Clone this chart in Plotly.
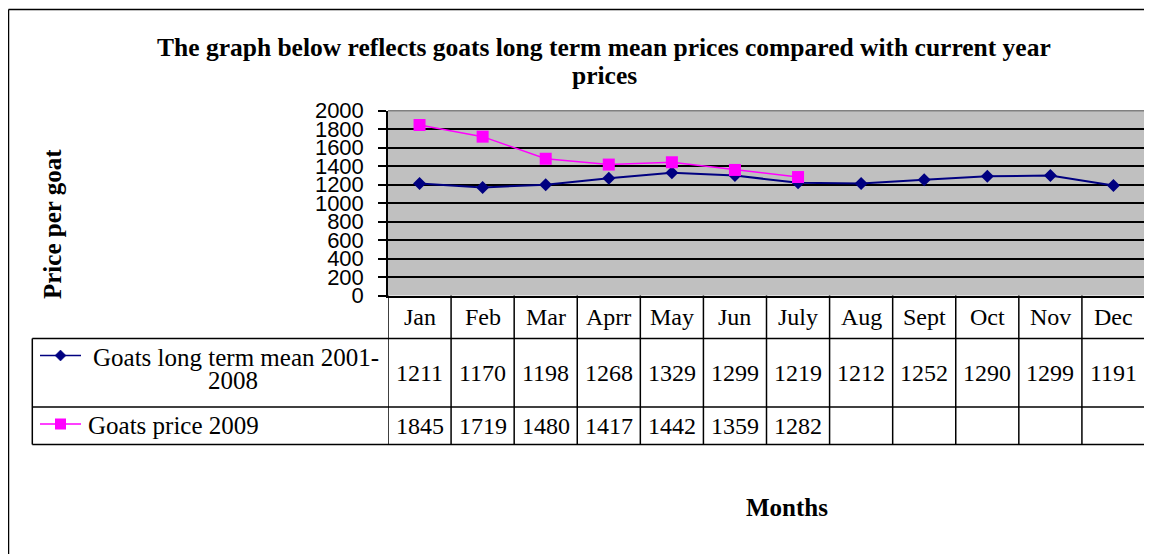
import plotly.graph_objects as go

months = ["Jan", "Feb", "Mar", "Aprr", "May", "Jun", "July", "Aug", "Sept", "Oct", "Nov", "Dec"]
mean_2001_2008 = [1211, 1170, 1198, 1268, 1329, 1299, 1219, 1212, 1252, 1290, 1299, 1191]
price_2009 = [1845, 1719, 1480, 1417, 1442, 1359, 1282, None, None, None, None, None]
series_names = ["Goats long term mean 2001-", "2008", "Goats price 2009"]

W, H = 1152, 554
NAVY = "#000080"
MAGENTA = "#FF00FF"
SERIF = "Liberation Serif, Times New Roman, serif"
SANS = "Liberation Sans, Arial, sans-serif"
OFF = 8  # page body margin offset


def px(x):
    return (x - OFF) / W


def py(y):
    return 1 - (y - OFF) / H


# layout geometry (pixels, as seen on the page)
PL, PR, PT, PB = 388, 1145, 110.7, 295.5
ROW1, ROW2, TBOT = 338.5, 407, 444.5
LEGL = 32.3

fig = go.Figure()
fig.add_trace(go.Scatter(
    x=months, y=mean_2001_2008, mode="lines+markers",
    line=dict(color=NAVY, width=2),
    marker=dict(symbol="diamond", size=10, color=NAVY),
    showlegend=False, cliponaxis=False))
fig.add_trace(go.Scatter(
    x=months, y=price_2009, mode="lines+markers",
    line=dict(color=MAGENTA, width=1.5),
    marker=dict(symbol="square", size=12, color=MAGENTA),
    showlegend=False, cliponaxis=False))

shapes = []
ann = []

# plot area top/right border (gray)
shapes.append(dict(type="line", xref="paper", yref="paper", x0=px(PL), x1=px(PR), y0=py(PT), y1=py(PT),
                   line=dict(color="#808080", width=1.5), layer="above"))
shapes.append(dict(type="line", xref="paper", yref="paper", x0=px(PR), x1=px(PR), y0=py(PT), y1=py(PB),
                   line=dict(color="#808080", width=1.5), layer="above"))

# table lines
blk = dict(color="black", width=1.5)
for i in range(len(months) + 1):
    shapes.append(dict(type="line", xref="x", yref="paper", x0=i - 0.5, x1=i - 0.5,
                       y0=py(PB), y1=py(TBOT), line=blk))
for yy in (ROW1, ROW2, TBOT):
    shapes.append(dict(type="line", xref="paper", yref="paper", x0=px(LEGL), x1=px(PR),
                       y0=py(yy), y1=py(yy), line=blk))
shapes.append(dict(type="line", xref="paper", yref="paper", x0=px(LEGL), x1=px(LEGL),
                   y0=py(ROW1), y1=py(TBOT), line=blk))

# legend keys in table
k1y, k2y = 355.5, 424
shapes.append(dict(type="line", xref="paper", yref="paper", x0=px(40), x1=px(81), y0=py(k1y), y1=py(k1y),
                   line=dict(color=NAVY, width=1.5)))
shapes.append(dict(type="line", xref="paper", yref="paper", x0=px(40), x1=px(81), y0=py(k2y), y1=py(k2y),
                   line=dict(color=MAGENTA, width=1.5)))
cx, r = 60.5, 5.5
shapes.append(dict(type="path", xref="paper", yref="paper",
                   path=f"M {px(cx - r)} {py(k1y)} L {px(cx)} {py(k1y - r)} L {px(cx + r)} {py(k1y)} L {px(cx)} {py(k1y + r)} Z",
                   fillcolor=NAVY, line=dict(color=NAVY, width=0.5)))
shapes.append(dict(type="rect", xref="paper", yref="paper", x0=px(cx - 5.5), x1=px(cx + 5.5),
                   y0=py(k2y - 5.5), y1=py(k2y + 5.5), fillcolor=MAGENTA, line=dict(color=MAGENTA, width=0)))

# outer frame
shapes.append(dict(type="line", xref="paper", yref="paper", x0=px(8.5), x1=px(1170), y0=py(9.5), y1=py(9.5),
                   line=dict(color="black", width=1.5)))
shapes.append(dict(type="line", xref="paper", yref="paper", x0=px(8.5), x1=px(8.5), y0=py(9.5), y1=py(570),
                   line=dict(color="black", width=1.5)))

tf = dict(family=SERIF, size=24, color="black")
# header months and values
for i, m in enumerate(months):
    ann.append(dict(x=i, y=py((PB + ROW1) / 2), xref="x", yref="paper", text=m, showarrow=False,
                    font=tf, xanchor="center", yanchor="middle"))
    ann.append(dict(x=i, y=py((ROW1 + ROW2) / 2), xref="x", yref="paper", text=str(mean_2001_2008[i]),
                    showarrow=False, font=tf, xanchor="center", yanchor="middle"))
    if price_2009[i] is not None:
        ann.append(dict(x=i, y=py((ROW2 + TBOT) / 2), xref="x", yref="paper", text=str(price_2009[i]),
                        showarrow=False, font=tf, xanchor="center", yanchor="middle"))

# series labels
lf = dict(family=SERIF, size=25, color="black")
ann.append(dict(x=px(236), y=py(357), xref="paper", yref="paper", text=series_names[0], showarrow=False,
                font=lf, xanchor="center", yanchor="middle"))
ann.append(dict(x=px(233), y=py(380), xref="paper", yref="paper", text=series_names[1], showarrow=False,
                font=lf, xanchor="center", yanchor="middle"))
ann.append(dict(x=px(86), y=py(425), xref="paper", yref="paper", text=series_names[2], showarrow=False,
                font=lf, xanchor="left", yanchor="middle"))

bf = dict(family=SERIF, size=25, color="black")
tbf = dict(family=SERIF, size=25.5, color="black")
ann.append(dict(x=px(604), y=py(47), xref="paper", yref="paper",
                text="<b>The graph below reflects goats long term mean prices compared with current year</b>",
                showarrow=False, font=tbf, xanchor="center", yanchor="middle"))
ann.append(dict(x=px(604), y=py(76), xref="paper", yref="paper", text="<b>prices</b>",
                showarrow=False, font=tbf, xanchor="center", yanchor="middle"))
ann.append(dict(x=px(52), y=py(224), xref="paper", yref="paper", text="<b>Price per goat</b>",
                showarrow=False, font=bf, textangle=-90, xanchor="center", yanchor="middle"))
ann.append(dict(x=px(787), y=py(508), xref="paper", yref="paper", text="<b>Months</b>",
                showarrow=False, font=bf, xanchor="center", yanchor="middle"))
ann.append(dict(x=px(8), y=py(8), xref="paper", yref="paper", text="<b>Goat prices</b>",
                showarrow=False, font=dict(family=SERIF, size=26, color="black"), xanchor="left", yanchor="bottom"))

fig.update_layout(
    width=W, height=H,
    margin=dict(l=0, r=0, t=0, b=0, autoexpand=False),
    paper_bgcolor="white",
    plot_bgcolor="#C0C0C0",
    showlegend=False,
    shapes=shapes,
    annotations=ann,
    xaxis=dict(domain=[px(PL), px(PR)], type="category", range=[-0.5, 11.5], automargin=False,
               showticklabels=False, ticks="", showgrid=False, zeroline=False,
               showline=True, linecolor="black", linewidth=1.5),
    yaxis=dict(domain=[py(PB), py(PT)], range=[0, 2000], dtick=200, tick0=0, automargin=False,
               showgrid=True, gridcolor="black", gridwidth=1.5, zeroline=False,
               showline=True, linecolor="black", linewidth=1.5,
               ticks="outside", ticklen=8, tickwidth=1.5, tickcolor="black",
               ticklabelstandoff=10,
               tickfont=dict(family=SANS, size=22, color="black")),
)

fig.write_html("out.html")
